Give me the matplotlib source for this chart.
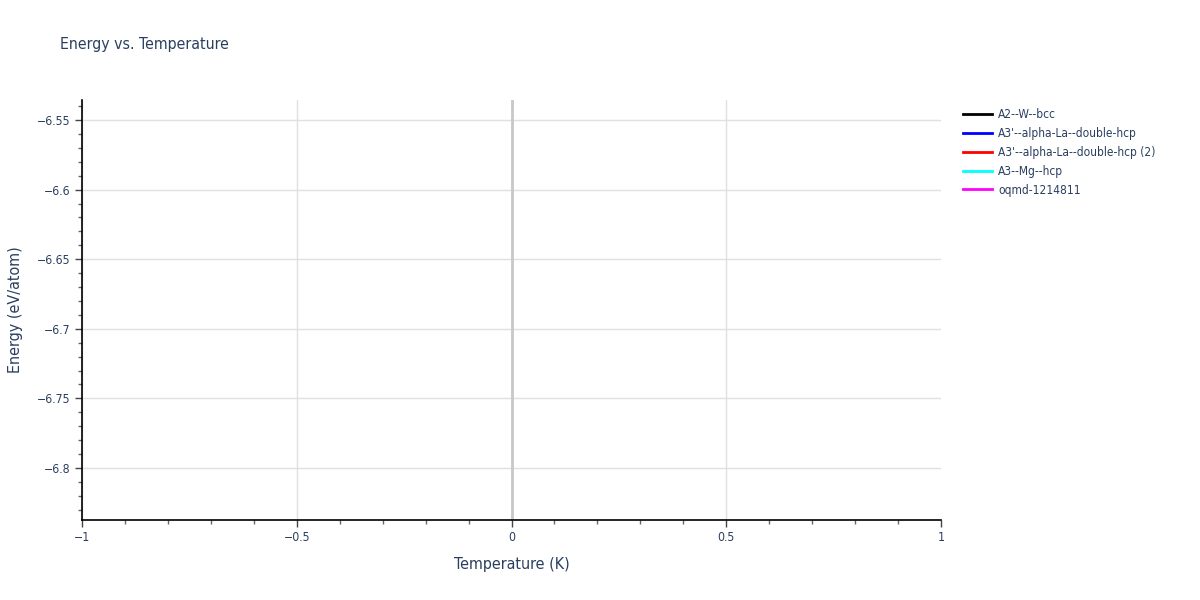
import matplotlib
matplotlib.use("Agg")
import matplotlib.pyplot as plt
from matplotlib.ticker import MultipleLocator, FuncFormatter

plt.rcParams['font.family'] = ['DejaVu Sans']
plt.rcParams['font.stretch'] = 'condensed'

# the chart has legend entries but no visible data
series_names = ["A2--W--bcc", "A3'--alpha-La--double-hcp",
                "A3'--alpha-La--double-hcp (2)", "A3--Mg--hcp", "oqmd-1214811"]
series_colors = ["black", "blue", "red", "cyan", "magenta"]
series_temps = [[], [], [], [], []]
series_energy = [[], [], [], [], []]

x_range = (-1, 1)
y_range = (-6.8374, -6.5356)
x_ticks = [-1, -0.5, 0, 0.5, 1]
y_ticks = [-6.55, -6.6, -6.65, -6.7, -6.75, -6.8]

txt = '#2a3f5f'

fig = plt.figure(figsize=(12, 6), dpi=100)
ax = fig.add_axes([82/1200, 80/600, (941-82)/1200, 420/600])

for name, col, t, e in zip(series_names, series_colors, series_temps, series_energy):
    ax.plot(t, e, color=col, lw=2, label=name)

ax.set_xlim(*x_range)
ax.set_ylim(*y_range)
ax.set_xticks(x_ticks)
ax.set_yticks(y_ticks)
ax.xaxis.set_minor_locator(MultipleLocator(0.1))
ax.yaxis.set_minor_locator(MultipleLocator(0.01))

def fmt(v, pos):
    s = f"{v:g}"
    return s.replace("-", "\u2212")

ax.xaxis.set_major_formatter(FuncFormatter(fmt))
ax.yaxis.set_major_formatter(FuncFormatter(fmt))

ax.grid(True, which='major', color='#e0e0e0', lw=1)
ax.axvline(0, color='#c8c8c8', lw=2, zorder=1)
ax.set_axisbelow(True)
# no grid line along the right edge
ax.xaxis.get_gridlines()[-1].set_visible(False)

for side in ['top', 'right']:
    ax.spines[side].set_visible(False)
for side in ['left', 'bottom']:
    ax.spines[side].set_color('black')
    ax.spines[side].set_linewidth(1.2)

ax.tick_params(which='major', direction='out', length=5, width=1, color='#444444',
               labelcolor=txt, labelsize=8.8, pad=3)
ax.tick_params(which='minor', direction='out', length=3, width=1, color='#666666')

ax.set_xlabel("Temperature (K)", color=txt, fontsize=11.5, labelpad=9)
ax.set_ylabel("Energy (eV/atom)", color=txt, fontsize=11.5, labelpad=10)

fig.text(60/1200, 1 - 45/600, "Energy vs. Temperature", color=txt, fontsize=11.3,
         va='center', ha='left')

leg = fig.legend(loc='upper left', bbox_to_anchor=(958/1200, 1 - 103/600),
                 frameon=False, fontsize=8.6, labelspacing=0.5, handlelength=2.45,
                 handletextpad=0.5, borderaxespad=0)
for t in leg.get_texts():
    t.set_color(txt)

fig.savefig("out.png", dpi=100)
